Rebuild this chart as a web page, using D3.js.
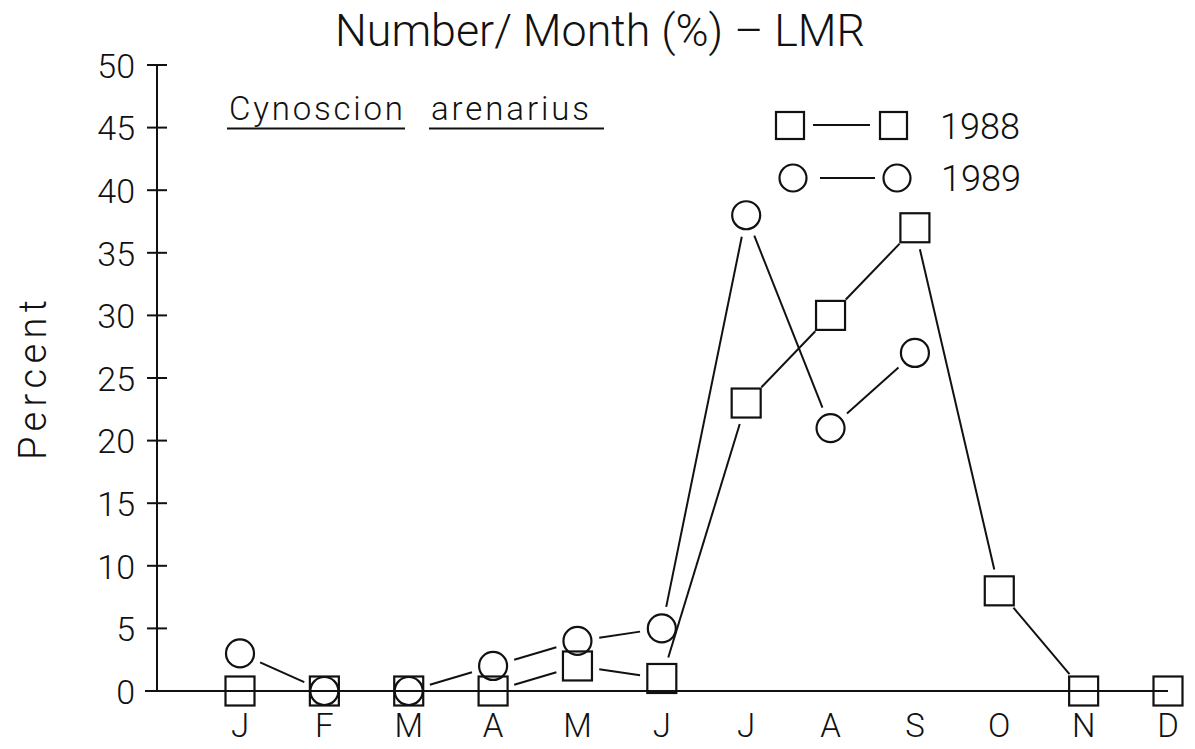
<!DOCTYPE html>
<html>
<head>
<meta charset="utf-8">
<script src="https://cdn.jsdelivr.net/npm/d3@7"></script>
<style>
  html, body { margin: 0; padding: 0; background: #fff; }
  svg { display: block; }
  text { font-family: "Roboto", "Liberation Sans", sans-serif; font-weight: 300; fill: #111; }
</style>
</head>
<body>
<svg id="chart" width="1195" height="749"></svg>
<script>
// Monthly catch share (% of annual number), Cynoscion arenarius, LMR
const months = ["J", "F", "M", "A", "M", "J", "J", "A", "S", "O", "N", "D"];
const pct1988 = [0, 0, 0, 0, 2, 1, 23, 30, 37, 8, 0, 0];
const pct1989 = [3, 0, 0, 2, 4, 5, 38, 21, 27];
const yTicks = [0, 5, 10, 15, 20, 25, 30, 35, 40, 45, 50];

const svg = d3.select("#chart");
const ink = "#111";

const x = d3.scalePoint().domain(d3.range(months.length)).range([240, 1168]);
const y = d3.scaleLinear().domain([0, 50]).range([691, 65]);

// Title
svg.append("text").attr("x", 335).attr("y", 46)
  .attr("textLength", 530).attr("lengthAdjust", "spacingAndGlyphs")
  .style("font-size", "44px").text("Number/ Month (%) \u2013 LMR");

// Species name, underlined word by word
const species = [{ t: "Cynoscion", x: 229, w: 174, u: 176 }, { t: "arenarius", x: 431, w: 158, u: 173 }];
species.forEach(s => {
  svg.append("text").attr("x", s.x).attr("y", 120)
    .attr("textLength", s.w).attr("lengthAdjust", "spacing")
    .style("font-size", "33px").text(s.t);
  svg.append("line").attr("x1", s.x - 2).attr("x2", s.x + s.u)
    .attr("y1", 128.5).attr("y2", 128.5).attr("stroke", ink).attr("stroke-width", 2);
});

// Y axis
const yAxis = svg.append("g").attr("transform", "translate(157,0)")
  .call(d3.axisLeft(y).tickValues(yTicks).tickSize(0).tickPadding(22).tickFormat(d3.format("d")));
yAxis.select(".domain").remove();
yAxis.selectAll("text").style("font-size", "34px").attr("fill", ink).attr("dy", "0.36em")
  .style("font-family", "Roboto, 'Liberation Sans', sans-serif").style("font-weight", 300);
svg.append("line").attr("x1", 157).attr("x2", 157).attr("y1", y(50)).attr("y2", y(0))
  .attr("stroke", ink).attr("stroke-width", 2);
svg.selectAll(".ytick").data(yTicks).join("line").attr("class", "ytick")
  .attr("x1", 147).attr("x2", 167).attr("y1", d => y(d)).attr("y2", d => y(d))
  .attr("stroke", ink).attr("stroke-width", 2);

// X axis line and month labels
svg.append("line").attr("x1", 145).attr("x2", x(11)).attr("y1", y(0)).attr("y2", y(0))
  .attr("stroke", ink).attr("stroke-width", 2);
svg.selectAll(".mlab").data(months).join("text").attr("class", "mlab")
  .attr("x", (d, i) => x(i)).attr("y", 737).attr("text-anchor", "middle")
  .style("font-size", "33px").text(d => d);

// Y axis title
svg.append("text").attr("transform", "translate(46,380) rotate(-90)")
  .attr("text-anchor", "middle").attr("textLength", 160).attr("lengthAdjust", "spacing")
  .style("font-size", "38px").text("Percent");

// Connecting segments stop short of the markers
const gap = 22;
function segments(vals) {
  const out = [];
  for (let i = 0; i < vals.length - 1; i++) {
    const x1 = x(i), y1 = y(vals[i]), x2 = x(i + 1), y2 = y(vals[i + 1]);
    const dx = x2 - x1, dy = y2 - y1, L = Math.hypot(dx, dy);
    if (L <= 2 * gap) continue;
    const ux = dx / L, uy = dy / L;
    out.push({ x1: x1 + ux * gap, y1: y1 + uy * gap, x2: x2 - ux * gap, y2: y2 - uy * gap });
  }
  return out;
}
function drawSeries(vals, shape, cls) {
  const g = svg.append("g").attr("class", cls);
  g.selectAll("line").data(segments(vals)).join("line")
    .attr("x1", d => d.x1).attr("y1", d => d.y1).attr("x2", d => d.x2).attr("y2", d => d.y2)
    .attr("stroke", ink).attr("stroke-width", 2);
  if (shape === "square") {
    g.selectAll("rect").data(vals).join("rect")
      .attr("x", (d, i) => x(i) - 14.5).attr("y", d => y(d) - 14.5)
      .attr("width", 29).attr("height", 29)
      .attr("fill", "none").attr("stroke", ink).attr("stroke-width", 2.2);
  } else {
    g.selectAll("circle").data(vals).join("circle")
      .attr("cx", (d, i) => x(i)).attr("cy", d => y(d)).attr("r", 14)
      .attr("fill", "none").attr("stroke", ink).attr("stroke-width", 2.2);
  }
}
drawSeries(pct1988, "square", "s1988");
drawSeries(pct1989, "circle", "s1989");

// Legend
const legend = svg.append("g");
legend.append("rect").attr("x", 776).attr("y", 112).attr("width", 28).attr("height", 27)
  .attr("fill", "none").attr("stroke", ink).attr("stroke-width", 2.2);
legend.append("line").attr("x1", 813).attr("x2", 870).attr("y1", 125).attr("y2", 125)
  .attr("stroke", ink).attr("stroke-width", 2);
legend.append("rect").attr("x", 880).attr("y", 112).attr("width", 27).attr("height", 27)
  .attr("fill", "none").attr("stroke", ink).attr("stroke-width", 2.2);
legend.append("text").attr("x", 940).attr("y", 139).style("font-size", "36px").text("1988");
legend.append("circle").attr("cx", 793).attr("cy", 178).attr("r", 13.5)
  .attr("fill", "none").attr("stroke", ink).attr("stroke-width", 2.2);
legend.append("line").attr("x1", 820).attr("x2", 875).attr("y1", 178).attr("y2", 178)
  .attr("stroke", ink).attr("stroke-width", 2);
legend.append("circle").attr("cx", 897).attr("cy", 178).attr("r", 13.5)
  .attr("fill", "none").attr("stroke", ink).attr("stroke-width", 2.2);
legend.append("text").attr("x", 941).attr("y", 191).style("font-size", "36px").text("1989");
</script>
</body>
</html>
